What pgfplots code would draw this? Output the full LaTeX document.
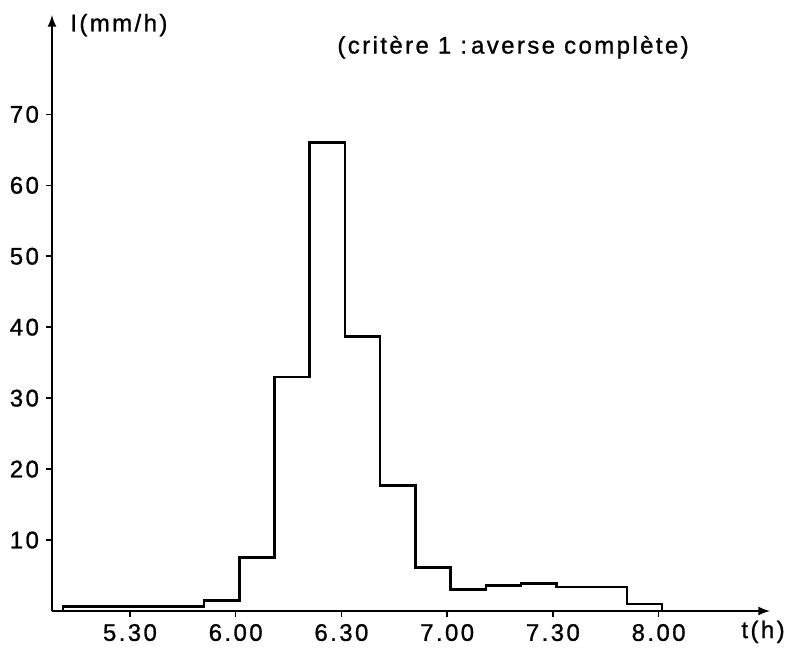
\documentclass[border=0pt]{standalone}
\usepackage{fontspec}
\setmainfont{Liberation Sans}[LetterSpace=10, FakeBold=1]
\usepackage{pgfplots}
\pgfplotsset{compat=1.18}
\begin{document}
\begin{tikzpicture}
\begin{axis}[
    scale only axis,
    width=359pt, height=298pt,
    xmin=7.88, xmax=211.6, ymin=0, ymax=84,
    axis lines=left,
    axis line style={line width=1pt, -latex},
    xtick={30,60,90,120,150,180},
    xticklabels={5.30,6.00,6.30,7.00,7.30,8.00},
    ytick={10,20,...,70},
    tick style={black, line width=0.8pt},
    tick align=outside,
    major tick length=3pt,
    /pgf/number format/assume math mode=true,
    ticklabel style={font=\fontsize{12}{14}\selectfont},
    clip=false,
]
% intensity per 10 min step, time in minutes after 5.00
\addplot[const plot, black, line width=1.3pt] coordinates {
    (11,0) (11,0.6) (51,1.5) (61,7.5) (71,33) (81,66) (91,38.7)
    (101,17.7) (111,6.1) (121,3.0) (131,3.6) (141,3.9) (151,3.4)
    (171,1.0) (181,0)
};
\node[anchor=west, inner sep=0pt, font=\fontsize{12}{14}\selectfont] at (rel axis cs:0.025,0.983) {I(mm/h)};
\node[anchor=west, inner sep=0pt, font=\fontsize{12}{14}\selectfont] at (rel axis cs:0.397,0.946) {(critère 1 :\,averse complète)};
\node[anchor=east, inner sep=0pt, font=\fontsize{12}{14}\selectfont] at (rel axis cs:1.021,-0.035) {t(h)};
\coordinate (bbsw) at (rel axis cs:-0.0724,-0.0654);
\coordinate (bbne) at (rel axis cs:1.0265,1.0252);
\end{axis}
\pgfresetboundingbox
\path (bbsw) rectangle (bbne);
\end{tikzpicture}
\end{document}
